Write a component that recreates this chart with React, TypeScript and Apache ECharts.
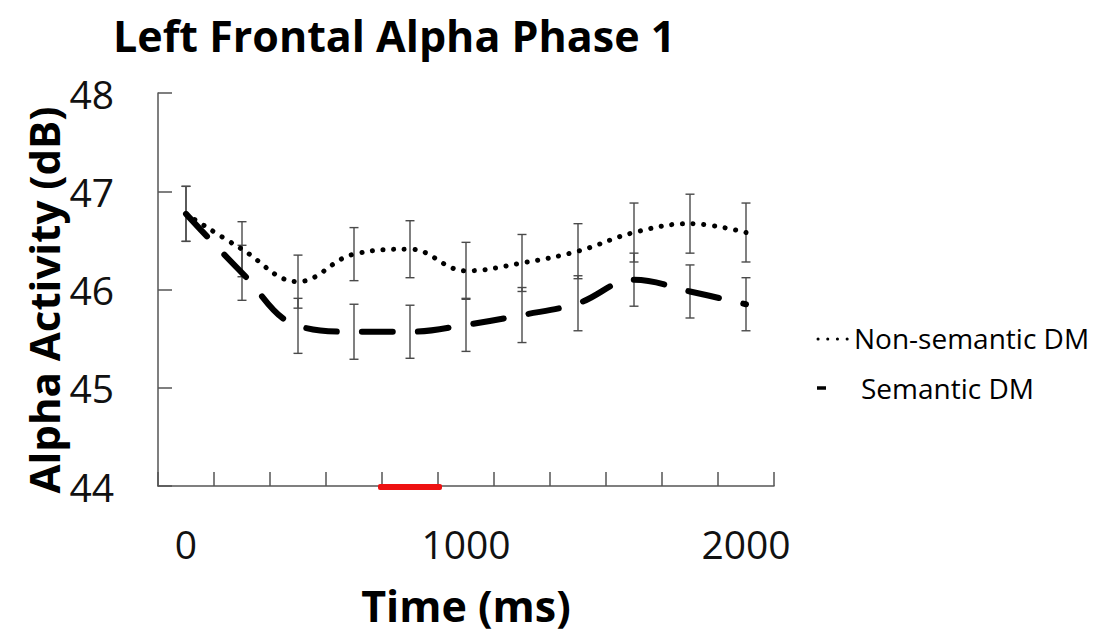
import React, { useEffect, useRef } from "react";
import * as echarts from "echarts";

const categories = ["0", "200", "400", "600", "800", "1000", "1200", "1400", "1600", "1800", "2000"];
const nonSemantic = [46.77, 46.41, 46.08, 46.36, 46.41, 46.19, 46.27, 46.39, 46.58, 46.67, 46.58];
const nonSemanticErr = [0.28, 0.28, 0.27, 0.27, 0.29, 0.29, 0.29, 0.28, 0.3, 0.3, 0.3];
const semantic = [46.77, 46.17, 45.63, 45.57, 45.57, 45.64, 45.74, 45.86, 46.1, 45.98, 45.85];
const semanticErr = [0.28, 0.28, 0.28, 0.28, 0.27, 0.27, 0.28, 0.28, 0.27, 0.27, 0.27];
const yTicks = [44, 45, 46, 47, 48];
const highlightCategory = "800";
const titleText = "Left Frontal Alpha Phase 1";
const xName = "Time (ms)";
const yName = "Alpha Activity (dB)";
const legendNames = ["Non-semantic DM", "Semantic DM"];

const FONT = "'Open Sans', sans-serif";

function errorBarItem(params: any, api: any) {
  const i = api.value(0);
  const m = api.value(1);
  const e = api.value(2);
  const top = api.coord([i, m + e]);
  const bot = api.coord([i, m - e]);
  const cw = 4.5;
  const style = { stroke: "#4a4a4a", lineWidth: 1.4 };
  return {
    type: "group",
    children: [
      { type: "line", shape: { x1: top[0], y1: top[1], x2: bot[0], y2: bot[1] }, style },
      { type: "line", shape: { x1: top[0] - cw, y1: top[1], x2: top[0] + cw, y2: top[1] }, style },
      { type: "line", shape: { x1: bot[0] - cw, y1: bot[1], x2: bot[0] + cw, y2: bot[1] }, style },
    ],
  };
}

export default function App() {
  const ref = useRef<HTMLDivElement>(null);
  useEffect(() => {
    if (!ref.current) return;
    const chart = echarts.init(ref.current, null, { renderer: "svg" });
    const hlIndex = categories.indexOf(highlightCategory);
    chart.setOption({
      animation: false,
      backgroundColor: "#ffffff",
      grid: { left: 158, top: 93, right: 334, bottom: 157 },
      xAxis: {
        type: "category",
        data: categories,
        boundaryGap: true,
        axisLine: { show: true, lineStyle: { color: "#555", width: 1.5 } },
        axisTick: { show: true, inside: true, length: 14, interval: 0, lineStyle: { color: "#555", width: 1.5 } },
        axisLabel: { interval: 4, margin: 38, fontSize: 39, fontFamily: FONT, color: "#111" },
        splitLine: { show: false },
        name: xName,
        nameLocation: "middle",
        nameGap: 98,
        nameTextStyle: { fontFamily: FONT, fontWeight: "bold", fontSize: 43, color: "#000" },
      },
      yAxis: {
        type: "value",
        min: yTicks[0],
        max: yTicks[yTicks.length - 1],
        interval: 1,
        axisLine: { show: true, lineStyle: { color: "#555", width: 1.5 } },
        axisTick: { show: true, inside: true, length: 14, lineStyle: { color: "#555", width: 1.5 } },
        axisLabel: { margin: 44, fontSize: 39, fontFamily: FONT, color: "#111" },
        splitLine: { show: false },
      },
      series: [
        {
          type: "custom",
          name: "nsErr",
          renderItem: errorBarItem,
          data: nonSemantic.map((v, i) => [i, v, nonSemanticErr[i]]),
          encode: { x: 0, y: 1 },
          z: 1,
          silent: true,
        },
        {
          type: "custom",
          name: "sErr",
          renderItem: errorBarItem,
          data: semantic.map((v, i) => [i, v, semanticErr[i]]),
          encode: { x: 0, y: 1 },
          z: 1,
          silent: true,
        },
        {
          type: "line",
          name: legendNames[0],
          data: nonSemantic,
          smooth: 0.4,
          symbol: "none",
          lineStyle: { color: "#000", width: 5, type: [0.1, 10.6], cap: "round" },
          z: 3,
        },
        {
          type: "line",
          name: legendNames[1],
          data: semantic,
          smooth: 0.4,
          symbol: "none",
          lineStyle: { color: "#000", width: 6, type: [31, 25], cap: "round" },
          z: 3,
        },
        {
          type: "custom",
          name: "highlight",
          clip: false,
          data: [[hlIndex, yTicks[0]]],
          encode: { x: 0, y: 1 },
          z: 5,
          renderItem: (params: any, api: any) => {
            const c = api.coord([api.value(0), api.value(1)]);
            const w = api.size([1, 0])[0];
            return {
              type: "rect",
              shape: { x: c[0] - w / 2 - 4, y: c[1] - 2, width: w + 8, height: 6, r: 2 },
              style: { fill: "#ee1111" },
            };
          },
        },
      ],
      graphic: [
        {
          type: "text",
          x: 113,
          y: 35,
          style: {
            text: titleText,
            fontFamily: FONT,
            fontWeight: "bold",
            fontSize: 43,
            fill: "#000",
            align: "left",
            verticalAlign: "middle",
          },
        },
        {
          type: "text",
          x: 43,
          y: 300,
          rotation: Math.PI / 2,
          style: {
            text: yName,
            fontFamily: FONT,
            fontWeight: "bold",
            fontSize: 42,
            fill: "#000",
            align: "center",
            verticalAlign: "middle",
          },
        },
        {
          type: "line",
          shape: { x1: 818, y1: 339, x2: 848, y2: 339 },
          style: { stroke: "#000", lineWidth: 3, lineDash: [0.1, 9.6], lineCap: "round" },
        },
        {
          type: "text",
          x: 854,
          y: 338,
          style: { text: legendNames[0], fontFamily: FONT, fontSize: 28, fill: "#000", verticalAlign: "middle" },
        },
        {
          type: "line",
          shape: { x1: 817, y1: 388, x2: 826, y2: 388 },
          style: { stroke: "#000", lineWidth: 3.5, lineCap: "butt" },
        },
        {
          type: "text",
          x: 861,
          y: 388,
          style: { text: legendNames[1], fontFamily: FONT, fontSize: 28, fill: "#000", verticalAlign: "middle" },
        },
      ],
    });
    return () => chart.dispose();
  }, []);
  return (
    <div
      ref={ref}
      style={{ position: "absolute", left: 0, top: 0, width: 1108, height: 643 }}
    />
  );
}
